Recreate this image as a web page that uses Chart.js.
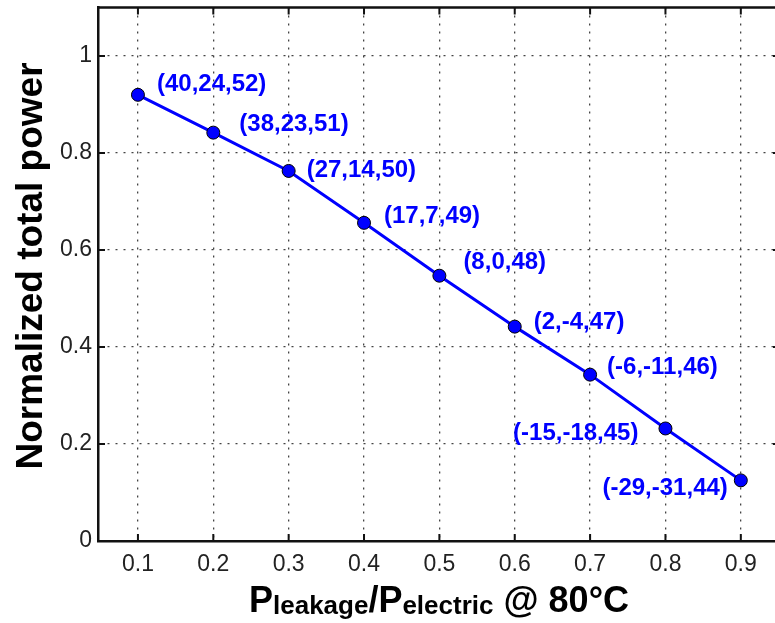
<!DOCTYPE html>
<html>
<head>
<meta charset="utf-8">
<script src="https://cdn.jsdelivr.net/npm/chart.js@4"></script>
<style>
  html, body { margin: 0; padding: 0; background: #fff; overflow: hidden; }
  #wrap { width: 790px; height: 623px; }
</style>
</head>
<body>
<div id="wrap"><canvas id="powerChart" width="790" height="623"></canvas></div>
<script>
// leakage ratio on x, normalized power on y
const ratios = [0.1, 0.2, 0.3, 0.4, 0.5, 0.6, 0.7, 0.8, 0.9];
const normPower = [0.92, 0.842, 0.763, 0.656, 0.547, 0.442, 0.343, 0.232, 0.125];
const pointTags = ['(40,24,52)', '(38,23,51)', '(27,14,50)', '(17,7,49)', '(8,0,48)',
                   '(2,-4,47)', '(-6,-11,46)', '(-15,-18,45)', '(-29,-31,44)'];
const xTicks = [0.1, 0.2, 0.3, 0.4, 0.5, 0.6, 0.7, 0.8, 0.9];
const xTickLabels = ['0.1', '0.2', '0.3', '0.4', '0.5', '0.6', '0.7', '0.8', '0.9'];
const yTicks = [0, 0.2, 0.4, 0.6, 0.8, 1];
const yTickLabels = ['0', '0.2', '0.4', '0.6', '0.8', '1'];

const FONT = "'Liberation Sans', Arial, sans-serif";

// where each tag sits relative to its point (dx, dy, align)
const tagOffsets = [[19, -10], [26, -8], [18, -1], [20, -6], [24, -13],
                    [19, -4], [17, -7], [-27, 5, 'right'], [-13, 8, 'right']];

// box + inward ticks, matlab style
const frame = {
  id: 'frame',
  afterDraw(chart) {
    const {ctx, chartArea: a, scales: {x, y}} = chart;
    ctx.save();
    ctx.strokeStyle = '#111';
    ctx.lineWidth = 2.5;
    ctx.beginPath();
    ctx.moveTo(a.left, a.top); ctx.lineTo(a.right, a.top); ctx.lineTo(a.right, a.bottom);
    ctx.stroke();
    ctx.lineWidth = 2;
    const len = 7;
    ctx.beginPath();
    xTicks.forEach(v => {
      const px = x.getPixelForValue(v);
      ctx.moveTo(px, a.bottom); ctx.lineTo(px, a.bottom - len);
      ctx.moveTo(px, a.top); ctx.lineTo(px, a.top + len);
    });
    yTicks.forEach(v => {
      const py = y.getPixelForValue(v);
      ctx.moveTo(a.left, py); ctx.lineTo(a.left + len, py);
      ctx.moveTo(a.right, py); ctx.lineTo(a.right - len, py);
    });
    ctx.stroke();

    // y title
    ctx.fillStyle = '#000';
    ctx.save();
    ctx.translate(42, 266);
    ctx.rotate(-Math.PI / 2);
    ctx.font = 'bold 37px ' + FONT;
    ctx.textAlign = 'center';
    ctx.textBaseline = 'alphabetic';
    ctx.fillText('Normalized total power', 0, 0);
    ctx.restore();

    // x title with subscripts
    const parts = [
      ['P', 36, 0], ['leakage', 26, 2], ['/', 36, 0], ['P', 36, 0],
      ['electric', 26, 2], [' @ 80°C', 36, 0]
    ];
    let total = 0;
    parts.forEach(p => { ctx.font = 'bold ' + p[1] + 'px ' + FONT; total += ctx.measureText(p[0]).width; });
    let cx = (a.left + a.right) / 2 - total / 2;
    ctx.textAlign = 'left';
    ctx.textBaseline = 'alphabetic';
    parts.forEach(p => {
      ctx.font = 'bold ' + p[1] + 'px ' + FONT;
      ctx.fillText(p[0], cx, 612 + p[2]);
      cx += ctx.measureText(p[0]).width;
    });
    ctx.restore();
  }
};

const pointLabels = {
  id: 'pointLabels',
  afterDatasetsDraw(chart) {
    const {ctx} = chart;
    const pts = chart.getDatasetMeta(0).data;
    ctx.save();
    ctx.font = 'bold 24px ' + FONT;
    ctx.fillStyle = '#0000ff';
    ctx.textBaseline = 'middle';
    pts.forEach((pt, i) => {
      const off = tagOffsets[i];
      ctx.textAlign = off[2] || 'left';
      ctx.fillText(pointTags[i], pt.x + off[0], pt.y + off[1]);
    });
    ctx.restore();
  }
};

const gridStyle = {color: '#444', lineWidth: 1.3, drawTicks: false};
const borderStyle = {display: true, color: '#111', width: 2.5, dash: [2, 6]};

const noPad = s => { s.paddingTop = 0; s.paddingBottom = 0; s.paddingLeft = 0; s.paddingRight = 0; };

new Chart(document.getElementById('powerChart'), {
  type: 'line',
  data: {
    datasets: [{
      data: ratios.map((r, i) => ({x: r, y: normPower[i]})),
      borderColor: '#0000ff',
      borderWidth: 3,
      pointRadius: 6.5,
      pointBackgroundColor: '#0000ff',
      pointBorderColor: '#000',
      pointBorderWidth: 1,
      tension: 0
    }]
  },
  options: {
    responsive: false,
    animation: false,
    layout: {padding: {top: 6, right: 10, left: 0, bottom: 0}},
    plugins: {legend: {display: false}, tooltip: {enabled: false}},
    scales: {
      x: {
        type: 'linear',
        min: 0.047,
        max: 0.952,
        afterBuildTicks: s => { s.ticks = xTicks.map(v => ({value: v})); },
        afterFit: s => { s.height = 82; noPad(s); },
        ticks: {
          callback: (v, i) => xTickLabels[i],
          font: {family: FONT, size: 23},
          color: '#222',
          padding: 10,
          maxRotation: 0
        },
        grid: gridStyle,
        border: borderStyle
      },
      y: {
        min: 0,
        max: 1.1,
        afterBuildTicks: s => { s.ticks = yTicks.map(v => ({value: v})); },
        afterFit: s => { s.width = 98; noPad(s); },
        ticks: {
          callback: (v, i) => yTickLabels[i],
          font: {family: FONT, size: 23},
          color: '#222',
          padding: 6
        },
        grid: gridStyle,
        border: borderStyle
      }
    }
  },
  plugins: [frame, pointLabels]
});
</script>
</body>
</html>
